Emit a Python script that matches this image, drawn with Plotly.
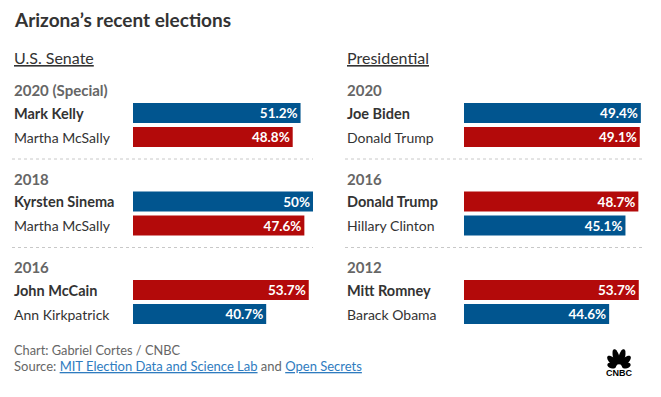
import math
import plotly.graph_objects as go

W, H = 661, 397
OFF = 8  # page body margin offset
FW, FH = W - OFF, H - OFF

title = "Arizona\u2019s recent elections"
panels = ["U.S. Senate", "Presidential"]

# Senate races
senate_years = ["2020 (Special)", "2018", "2016"]
senate_names = [["Mark Kelly", "Martha McSally"],
                ["Kyrsten Sinema", "Martha McSally"],
                ["John McCain", "Ann Kirkpatrick"]]
senate_values = [[51.2, 48.8], [50.0, 47.6], [53.7, 40.7]]
senate_party = [["D", "R"], ["D", "R"], ["R", "D"]]
senate_labels = [["51.2%", "48.8%"], ["50%", "47.6%"], ["53.7%", "40.7%"]]
senate_scale_max = [55, 50, 55]

# Presidential races
pres_years = ["2020", "2016", "2012"]
pres_names = [["Joe Biden", "Donald Trump"],
              ["Donald Trump", "Hillary Clinton"],
              ["Mitt Romney", "Barack Obama"]]
pres_values = [[49.4, 49.1], [48.7, 45.1], [53.7, 44.6]]
pres_party = [["D", "R"], ["R", "D"], ["R", "D"]]
pres_labels = [["49.4%", "49.1%"], ["48.7%", "45.1%"], ["53.7%", "44.6%"]]
pres_scale_max = [50, 50, 55]

credit = "Chart: Gabriel Cortes / CNBC"

COL = {"D": "#01558f", "R": "#b30a0a"}
FONT = "Lato"
DARK = "#333333"
GRAY = "#666666"


def px(x):
    return (x - OFF) / FW


def py(y):
    return 1 - (y - OFF) / FH


fig = go.Figure()
layout = dict(width=FW, height=FH, margin=dict(l=0, r=0, t=0, b=0),
              paper_bgcolor="white", plot_bgcolor="white", showlegend=False,
              font=dict(family=FONT, color=DARK))
annotations = []
shapes = []

panel_cfg = [
    dict(label_x=12, bar_x0=133, bar_x1=313, years=senate_years, names=senate_names,
         values=senate_values, party=senate_party, labels=senate_labels, smax=senate_scale_max),
    dict(label_x=345, bar_x0=464, bar_x1=643, years=pres_years, names=pres_names,
         values=pres_values, party=pres_party, labels=pres_labels, smax=pres_scale_max),
]

annotations.append(dict(text="<b>" + title + "</b>", x=px(12), y=py(20), xref="paper", yref="paper",
                        xanchor="left", yanchor="middle", showarrow=False,
                        font=dict(size=19, color=DARK, family=FONT)))

ax = 0
for p, cfg in enumerate(panel_cfg):
    annotations.append(dict(text=panels[p], x=px(cfg["label_x"]), y=py(57), xref="paper", yref="paper",
                            xanchor="left", yanchor="middle", showarrow=False,
                            font=dict(size=16, color=DARK, family=FONT, lineposition="under")))
    for b in range(3):
        ax += 1
        top = 103 + 88.5 * b
        xa = "xaxis" if ax == 1 else f"xaxis{ax}"
        ya = "yaxis" if ax == 1 else f"yaxis{ax}"
        xr = "x" if ax == 1 else f"x{ax}"
        yr = "y" if ax == 1 else f"y{ax}"
        layout[xa] = dict(domain=[px(cfg["bar_x0"]), px(cfg["bar_x1"])],
                          range=[0, cfg["smax"][b]], visible=False, fixedrange=True)
        layout[ya] = dict(domain=[py(top - 2 + 48), py(top - 2)], range=[1.5, -0.5],
                          visible=False, fixedrange=True)
        vals = cfg["values"][b]
        fig.add_trace(go.Bar(
            x=vals, y=[0, 1], orientation="h", width=20 / 24,
            marker=dict(color=[COL[c] for c in cfg["party"][b]], line=dict(width=0)),
            text=["<b>" + t + "</b>" for t in cfg["labels"][b]],
            textposition="inside", insidetextanchor="end", textangle=0,
            constraintext="none",
            textfont=dict(color="white", size=13.5, family=FONT),
            hoverinfo="skip", xaxis=xr, yaxis=yr, cliponaxis=False))
        # year
        annotations.append(dict(text="<b>" + cfg["years"][b] + "</b>", x=px(cfg["label_x"]),
                                y=py(top - 13), xref="paper", yref="paper", xanchor="left",
                                yanchor="middle", showarrow=False,
                                font=dict(size=15, color=GRAY, family=FONT)))
        for i, nm in enumerate(cfg["names"][b]):
            annotations.append(dict(text=("<b>" + nm + "</b>") if i == 0 else nm,
                                    x=px(cfg["label_x"]), y=i, xref="paper", yref=yr,
                                    xanchor="left", yanchor="middle", showarrow=False,
                                    font=dict(size=14.5 if i == 0 else 14, color=DARK, family=FONT)))
        if b < 2:
            ly = top + 44 + 12
            shapes.append(dict(type="line", xref="paper", yref="paper",
                               x0=px(cfg["label_x"]), x1=px(cfg["bar_x1"]), y0=py(ly), y1=py(ly),
                               line=dict(color="#c8c8c8", width=1, dash="dot")))

# footer
annotations.append(dict(text=credit, x=px(12), y=py(350), xref="paper", yref="paper",
                        xanchor="left", yanchor="middle", showarrow=False,
                        font=dict(size=12.8, color=GRAY, family=FONT)))
link = "color:#2f7cbf;text-decoration:underline"
src = ("Source: <a href='https://electionlab.mit.edu/' style='" + link + "'>MIT Election Data and Science Lab</a>"
       " and <a href='https://www.opensecrets.org/' style='" + link + "'>Open Secrets</a>")
annotations.append(dict(text=src, x=px(12), y=py(366), xref="paper", yref="paper",
                        xanchor="left", yanchor="middle", showarrow=False,
                        font=dict(size=13, color=GRAY, family=FONT)))

# CNBC logo (peacock) on a hidden pixel-scaled axis
ax += 1
layout[f"xaxis{ax}"] = dict(domain=[px(595), px(645)], range=[595, 645], visible=False, fixedrange=True)
layout[f"yaxis{ax}"] = dict(domain=[py(385), py(340)], range=[385, 340], visible=False, fixedrange=True)
cx, cy = 619, 367.5
feathers = [(165, 7.5, 4.5, 2.8), (135, 9.5, 6.5, 3.1), (105, 11, 8, 3.1),
            (75, 11, 8, 3.1), (45, 9.5, 6.5, 3.1), (15, 7.5, 4.5, 2.8)]
for ang, rc, a_, b_ in feathers:
    a = math.radians(ang)
    ux, uy = math.cos(a), -math.sin(a)
    vx, vy = -uy, ux
    pts = []
    for k in range(28):
        t = 2 * math.pi * k / 28
        r = rc + a_ * math.cos(t)
        s = b_ * math.sin(t)
        pts.append((cx + ux * r + vx * s, cy + uy * r + vy * s))
    path = "M " + " L ".join(f"{x:.2f},{y:.2f}" for x, y in pts) + " Z"
    shapes.append(dict(type="path", path=path, xref=f"x{ax}", yref=f"y{ax}",
                       fillcolor="black", line=dict(width=0)))
annotations.append(dict(text="<b>CNBC</b>", x=619, y=372.5, xref=f"x{ax}", yref=f"y{ax}",
                        xanchor="center", yanchor="middle", showarrow=False,
                        font=dict(size=9, color="black", family="Liberation Sans")))

layout["annotations"] = annotations
layout["shapes"] = shapes
fig.update_layout(**layout)
fig.write_html("out.html")
